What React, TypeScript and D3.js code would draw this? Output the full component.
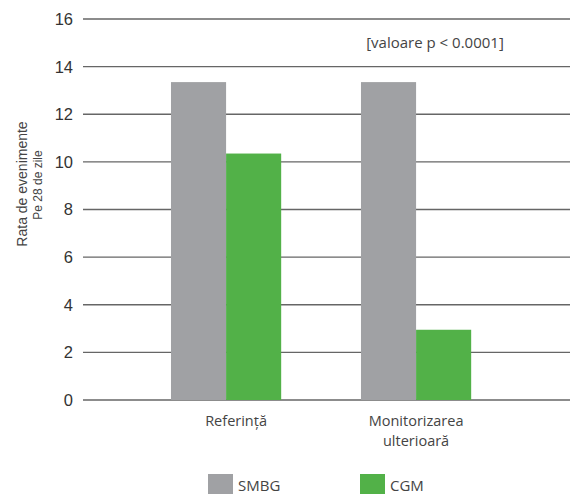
import React from "react";
import * as d3 from "d3";

const categories = ["Referință", "Monitorizarea ulterioară"];
const categoryLines = [["Referință"], ["Monitorizarea", "ulterioară"]];
const seriesNames = ["SMBG", "CGM"];
const smbgValues = [13.35, 13.35];
const cgmValues = [10.35, 2.95];
const yTicks = [0, 2, 4, 6, 8, 10, 12, 14, 16];
const colors = ["#a0a1a4", "#52b148"];

export default function App() {
  const W = 570, H = 494;
  const left = 83, right = 570, top = 19, bottom = 400;
  const y = d3.scaleLinear().domain([0, 16]).range([bottom, top]);
  const x = d3
    .scaleBand<string>()
    .domain(categories)
    .range([left, right])
    .paddingInner(0.42)
    .paddingOuter(0.4916)
    .align(0.471);
  const xs = d3.scaleBand<string>().domain(seriesNames).range([0, x.bandwidth()]);
  const values = [smbgValues, cgmValues];
  const labelShift = [10, 0];
  const legendX = [208, 360];

  return (
    <svg width={W} height={H} style={{ position: "absolute", left: 0, top: 0 }}>
      <rect width={W} height={H} fill="#fff" />
      {yTicks.map((t) => (
        <g key={t}>
          <line x1={left} x2={right} y1={y(t)} y2={y(t)} stroke="#666" strokeWidth={1.4} />
          <text
            x={73}
            y={y(t)}
            dy="0.36em"
            textAnchor="end"
            fontFamily="Liberation Sans, Arial, sans-serif"
            fontSize={16.5}
            fill="#333"
          >
            {t}
          </text>
        </g>
      ))}
      {categories.map((c, i) => (
        <g key={c}>
          {seriesNames.map((s, j) => (
            <rect
              key={s}
              x={(x(c) as number) + (xs(s) as number)}
              y={y(values[j][i])}
              width={xs.bandwidth()}
              height={y(0) - y(values[j][i])}
              fill={colors[j]}
            />
          ))}
          {categoryLines[i].map((ln, k) => (
            <text
              key={k}
              x={(x(c) as number) + x.bandwidth() / 2 + labelShift[i]}
              y={426 + k * 20}
              textAnchor="middle"
              fontFamily="Open Sans, sans-serif"
              fontSize={14.5}
              fill="#444"
            >
              {ln}
            </text>
          ))}
        </g>
      ))}
      <text
        x={435}
        y={48}
        textAnchor="middle"
        fontFamily="Open Sans, sans-serif"
        fontSize={15}
        fill="#444"
      >
        [valoare p &lt; 0.0001]
      </text>
      <text
        transform="translate(27,184) rotate(-90)"
        textAnchor="middle"
        fontFamily="Liberation Sans, Arial, sans-serif"
        fontSize={14}
        fill="#444"
      >
        Rata de evenimente
      </text>
      <text
        transform="translate(42,185) rotate(-90)"
        textAnchor="middle"
        fontFamily="Liberation Sans, Arial, sans-serif"
        fontSize={12}
        fill="#444"
      >
        Pe 28 de zile
      </text>
      {seriesNames.map((s, j) => (
        <g key={s} transform={`translate(${legendX[j]},474)`}>
          <rect width={25} height={20} fill={colors[j]} />
          <text x={30} y={16.5} fontFamily="Open Sans, sans-serif" fontSize={15} fill="#444">
            {s}
          </text>
        </g>
      ))}
    </svg>
  );
}
